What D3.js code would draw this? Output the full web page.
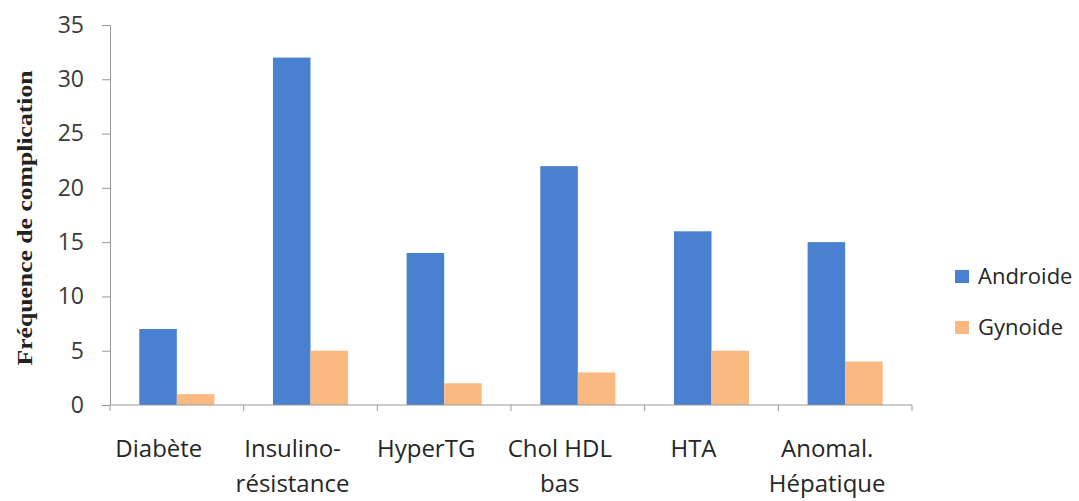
<!DOCTYPE html>
<html>
<head>
<meta charset="utf-8">
<script src="https://cdn.jsdelivr.net/npm/d3@7"></script>
<style>
  body { margin: 0; background: #fff; }
  text { font-family: "Open Sans", sans-serif; }
</style>
</head>
<body>
<div id="chart"></div>
<script>
// categories, each label split on two lines as in the original
var categories = ["Diabète", "Insulino-résistance", "HyperTG", "Chol HDL bas", "HTA", "Anomal. Hépatique"];
var labelLines = [["Diabète"], ["Insulino-", "résistance"], ["HyperTG"], ["Chol HDL", "bas"], ["HTA"], ["Anomal.", "Hépatique"]];
var seriesNames = ["Androide", "Gynoide"];
var androide = [7, 32, 14, 22, 16, 15];
var gynoide = [1, 5, 2, 3, 5, 4];
var yTicks = [0, 5, 10, 15, 20, 25, 30, 35];

var colors = ["#4a80d0", "#fbb982"];

var width = 1079, height = 501;
var margin = {top: 25, right: 167, bottom: 96, left: 110};

var svg = d3.select("#chart").append("svg")
    .attr("width", width)
    .attr("height", height);

var data = categories.map(function(c, i) {
    return {cat: c, values: [androide[i], gynoide[i]]};
});

var x = d3.scaleBand()
    .domain(categories)
    .range([margin.left, width - margin.right])
    .paddingInner(0)
    .paddingOuter(0);

var x1 = d3.scaleBand()
    .domain(seriesNames)
    .range([0, x.bandwidth()])
    .paddingOuter(0.78)
    .paddingInner(0);

var y = d3.scaleLinear()
    .domain([0, 35])
    .range([height - margin.bottom, margin.top]);

// y axis
var yAxis = svg.append("g")
    .attr("transform", "translate(" + margin.left + ",0)")
    .call(d3.axisLeft(y).tickValues(yTicks).tickSize(8).tickPadding(18));
yAxis.select(".domain").attr("stroke", "#999");
yAxis.selectAll(".tick line").attr("stroke", "#999");
yAxis.selectAll(".tick text")
    .attr("fill", "#3a3a3a")
    .style("font-size", "23px");

// bars
var groups = svg.selectAll(".grp")
    .data(data)
    .enter().append("g")
    .attr("class", "grp")
    .attr("transform", function(d) { return "translate(" + x(d.cat) + ",0)"; });

groups.selectAll("rect")
    .data(function(d) { return d.values.map(function(v, j) { return {key: seriesNames[j], value: v, j: j}; }); })
    .enter().append("rect")
    .attr("x", function(d) { return x1(d.key); })
    .attr("width", x1.bandwidth())
    .attr("y", function(d) { return y(d.value); })
    .attr("height", function(d) { return y(0) - y(d.value); })
    .attr("fill", function(d) { return colors[d.j]; });

// x axis (ticks on category boundaries)
var xg = svg.append("g");
xg.append("line")
    .attr("x1", x.range()[0]).attr("x2", x.range()[1])
    .attr("y1", y(0)).attr("y2", y(0))
    .attr("stroke", "#999");
var bounds = categories.map(function(c) { return x(c); }).concat([x.range()[1]]);
xg.selectAll(".xtick")
    .data(bounds)
    .enter().append("line")
    .attr("x1", function(d) { return d; })
    .attr("x2", function(d) { return d; })
    .attr("y1", y(0))
    .attr("y2", y(0) + 6)
    .attr("stroke", "#999");

// category labels
var labels = svg.selectAll(".xlabel")
    .data(categories)
    .enter().append("text")
    .attr("class", "xlabel")
    .attr("text-anchor", "middle")
    .attr("fill", "#262626")
    .style("font-size", "24px")
    .attr("transform", function(d) {
        return "translate(" + (x(d) + x.bandwidth() / 2 - 18) + "," + (y(0) + 52) + ")";
    });
labels.selectAll("tspan")
    .data(function(d, i) { return labelLines[i]; })
    .enter().append("tspan")
    .attr("x", 0)
    .attr("y", function(d, k) { return k * 35; })
    .text(function(d) { return d; });

// y title
svg.append("text")
    .attr("transform", "translate(32," + ((y(35) + y(0)) / 2 + 3) + ") rotate(-90)")
    .attr("text-anchor", "middle")
    .attr("fill", "#222")
    .attr("textLength", 295)
    .attr("lengthAdjust", "spacingAndGlyphs")
    .style("font-family", "'Liberation Serif', 'Times New Roman', serif")
    .style("font-weight", "bold")
    .style("font-size", "22px")
    .text("Fréquence de complication");

// legend
var legend = svg.selectAll(".leg")
    .data(seriesNames)
    .enter().append("g")
    .attr("class", "leg")
    .attr("transform", function(d, i) { return "translate(955," + (270 + i * 51) + ")"; });
legend.append("rect")
    .attr("width", 14).attr("height", 13)
    .attr("fill", function(d, i) { return colors[i]; });
legend.append("text")
    .attr("x", 23)
    .attr("y", 14)
    .attr("fill", "#262626")
    .style("font-size", "22px")
    .text(function(d) { return d; });
</script>
</body>
</html>
